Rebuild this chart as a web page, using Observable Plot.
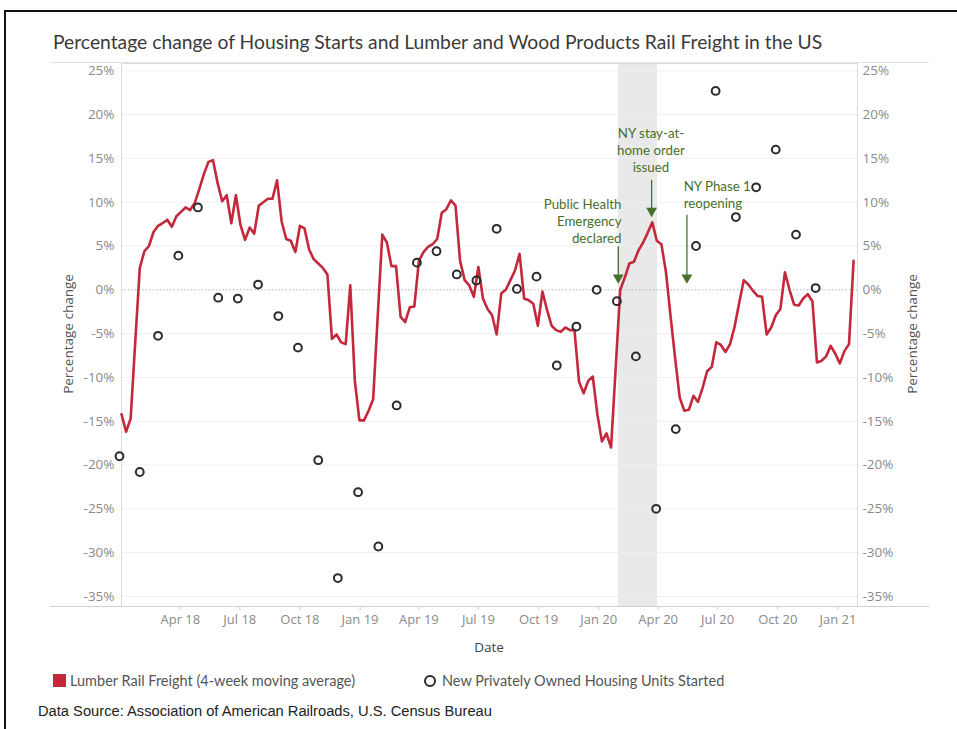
<!DOCTYPE html>
<html>
<head>
<meta charset="utf-8">
<script src="https://cdn.jsdelivr.net/npm/d3@7"></script>
<script src="https://cdn.jsdelivr.net/npm/@observablehq/plot@0.6"></script>
<style>
  html, body { margin: 0; padding: 0; background: #fff; }
  body { width: 957px; height: 729px; position: relative; overflow: hidden; font-family: Lato, "Open Sans", sans-serif; }
  #frame { position: absolute; left: 4px; top: 10px; width: 980px; height: 760px; border-left: 2px solid #111; border-top: 2px solid #111; }
  #title { position: absolute; left: 53px; top: 30px; font-size: 19.3px; color: #3a3a3a; white-space: nowrap; line-height: 24px; }
  #chart { position: absolute; left: 0; top: 55px; }
  .hline { position: absolute; left: 50px; width: 879px; height: 1px; }
  .ylab { position: absolute; top: 334px; font-size: 13.5px; color: #555; white-space: nowrap; font-family: "Open Sans", sans-serif; transform: translate(-50%, -50%) rotate(-90deg); }
  #xlab { position: absolute; left: 489px; top: 647px; transform: translate(-50%, -50%); font-size: 13.5px; color: #444; font-family: "Open Sans", sans-serif; }
  #legend { position: absolute; top: 672px; left: 0; width: 957px; height: 20px; font-size: 14.5px; color: #555; }
  .sw { position: absolute; top: 2px; }
  .lt { position: absolute; top: 0px; line-height: 18px; white-space: nowrap; }
  #source { position: absolute; left: 38px; top: 703px; font-family: "Liberation Sans", Arial, sans-serif; font-size: 14.7px; color: #222; white-space: nowrap; }
</style>
</head>
<body>
<div id="frame"></div>
<div id="title">Percentage change of Housing Starts and Lumber and Wood Products Rail Freight in the US</div>
<div class="hline" style="top:62px;background:#e2e2e2"></div>
<div id="chart"></div>
<div class="hline" style="top:606px;background:#cfcfcf"></div>
<div class="ylab" style="left:68px">Percentage change</div>
<div class="ylab" style="left:912px">Percentage change</div>
<div id="xlab">Date</div>
<div id="legend">
  <div class="sw" style="left:53px;width:13px;height:13px;background:#c4283b"></div>
  <div class="lt" style="left:70px">Lumber Rail Freight (4-week moving average)</div>
  <div class="sw" style="left:424px;top:3px;width:8px;height:8px;border:2px solid #2b2b2b;border-radius:50%"></div>
  <div class="lt" style="left:442px">New Privately Owned Housing Units Started</div>
</div>
<div id="source">Data Source: Association of American Railroads, U.S. Census Bureau</div>

<script>
// Weekly lumber rail freight (4-week moving average), % change
const weekDates = [
  "2018-01-01","2018-01-08","2018-01-15","2018-01-22","2018-01-29","2018-02-05","2018-02-12","2018-02-19","2018-02-26",
  "2018-03-05","2018-03-12","2018-03-19","2018-03-26","2018-04-02","2018-04-09","2018-04-16","2018-04-23","2018-04-30",
  "2018-05-07","2018-05-14","2018-05-21","2018-05-28","2018-06-04","2018-06-11","2018-06-18","2018-06-25",
  "2018-07-02","2018-07-09","2018-07-16","2018-07-23","2018-07-30","2018-08-06","2018-08-13","2018-08-20","2018-08-27",
  "2018-09-03","2018-09-10","2018-09-17","2018-09-24","2018-10-01","2018-10-08","2018-10-15","2018-10-22","2018-10-29",
  "2018-11-05","2018-11-12","2018-11-19","2018-11-26","2018-12-03","2018-12-10","2018-12-17","2018-12-24","2018-12-31",
  "2019-01-07","2019-01-14","2019-01-21","2019-01-28","2019-02-04","2019-02-11","2019-02-18","2019-02-25",
  "2019-03-04","2019-03-11","2019-03-18","2019-03-25","2019-04-01","2019-04-08","2019-04-15","2019-04-22","2019-04-29",
  "2019-05-06","2019-05-13","2019-05-20","2019-05-27","2019-06-03","2019-06-10","2019-06-17","2019-06-24",
  "2019-07-01","2019-07-08","2019-07-15","2019-07-22","2019-07-29","2019-08-05","2019-08-12","2019-08-19","2019-08-26",
  "2019-09-02","2019-09-09","2019-09-16","2019-09-23","2019-09-30","2019-10-07","2019-10-14","2019-10-21","2019-10-28",
  "2019-11-04","2019-11-11","2019-11-18","2019-11-25","2019-12-02","2019-12-09","2019-12-16","2019-12-23","2019-12-30",
  "2020-01-06","2020-01-13","2020-01-20","2020-01-27","2020-02-03","2020-02-10","2020-02-17","2020-02-24",
  "2020-03-02","2020-03-09","2020-03-16","2020-03-23","2020-03-30","2020-04-06","2020-04-13","2020-04-20","2020-04-27",
  "2020-05-04","2020-05-11","2020-05-18","2020-05-25","2020-06-01","2020-06-08","2020-06-15","2020-06-22","2020-06-29",
  "2020-07-06","2020-07-13","2020-07-20","2020-07-27","2020-08-03","2020-08-10","2020-08-17","2020-08-24","2020-08-31",
  "2020-09-07","2020-09-14","2020-09-21","2020-09-28","2020-10-05","2020-10-12","2020-10-19","2020-10-26",
  "2020-11-02","2020-11-09","2020-11-16","2020-11-23","2020-11-30","2020-12-07","2020-12-14","2020-12-21","2020-12-28",
  "2021-01-04","2021-01-11","2021-01-18","2021-01-25"
];
const lumberFreight = [
  -14.2, -16.2, -14.7, -6.0, 2.5, 4.4, 5.0, 6.6, 7.3,
  7.6, 8.0, 7.2, 8.4, 8.9, 9.4, 9.1, 9.9, 11.5,
  13.2, 14.6, 14.8, 12.2, 10.1, 10.8, 7.6, 10.8,
  7.4, 5.7, 7.1, 6.4, 9.6, 10.0, 10.4, 10.4, 12.5,
  7.8, 5.8, 5.6, 4.3, 7.3, 7.0, 4.6, 3.5, 3.0,
  2.5, 1.75, -5.6, -5.1, -6.0, -6.2, 0.5, -10.4, -14.9,
  -14.9, -13.8, -12.5, -3.0, 6.3, 5.4, 2.7, 2.7,
  -3.1, -3.7, -2.0, -1.9, 3.3, 4.3, 4.9, 5.2, 5.8,
  8.8, 9.2, 10.2, 9.6, 3.3, 1.1, 0.5, -0.8,
  2.6, -1.0, -2.2, -2.9, -5.1, -0.4, 0.0, 1.1, 2.2,
  4.1, -1.0, -1.2, -1.6, -4.1, -0.2, -2.3, -4.1, -4.6,
  -4.8, -4.3, -4.6, -4.6, -10.5, -11.8, -10.4, -9.9, -14.2,
  -17.3, -16.4, -18.0, -9.0, 0.0, 1.4, 3.0, 3.2,
  4.5, 5.4, 6.5, 7.7, 5.6, 5.2, 2.0, -3.0, -7.8,
  -12.3, -13.8, -13.7, -12.1, -12.8, -11.2, -9.3, -8.8, -6.0,
  -6.3, -7.1, -6.2, -4.2, -1.5, 1.1, 0.6, -0.1, -0.7,
  -0.8, -5.1, -4.3, -2.9, -2.2, 2.0, 0.0, -1.7,
  -1.8, -1.0, -0.5, -1.3, -8.3, -8.1, -7.6, -6.4, -7.3,
  -8.4, -7.0, -6.2, 3.3
];

// Monthly new privately owned housing units started, % change
const monthDates = [
  "2018-01-01","2018-02-01","2018-03-01","2018-04-01","2018-05-01","2018-06-01","2018-07-01","2018-08-01","2018-09-01","2018-10-01","2018-11-01","2018-12-01",
  "2019-01-01","2019-02-01","2019-03-01","2019-04-01","2019-05-01","2019-06-01","2019-07-01","2019-08-01","2019-09-01","2019-10-01","2019-11-01","2019-12-01",
  "2020-01-01","2020-02-01","2020-03-01","2020-04-01","2020-05-01","2020-06-01","2020-07-01","2020-08-01","2020-09-01","2020-10-01","2020-11-01","2020-12-01"
];
const housingStarts = [
  -19.0, -20.8, -5.25, 3.9, 9.4, -0.9, -1.0, 0.6, -3.0, -6.6, -19.45, -32.9,
  -23.1, -29.3, -13.2, 3.1, 4.4, 1.75, 1.06, 6.96, 0.1, 1.5, -8.64, -4.2,
  0.0, -1.3, -7.6, -25.0, -15.9, 5.0, 22.7, 8.3, 11.7, 16.0, 6.3, 0.2
];

// Axis ticks
const xTickDates = ["2018-04-01","2018-07-01","2018-10-01","2019-01-01","2019-04-01","2019-07-01","2019-10-01","2020-01-01","2020-04-01","2020-07-01","2020-10-01","2021-01-01"];
const xTickLabels = ["Apr 18","Jul 18","Oct 18","Jan 19","Apr 19","Jul 19","Oct 19","Jan 20","Apr 20","Jul 20","Oct 20","Jan 21"];
const yTicks = [-35, -30, -25, -20, -15, -10, -5, 0, 5, 10, 15, 20, 25];

// Shaded period
const bandStart = "2020-01-31";
const bandEnd = "2020-03-31";

// Annotations
const noteTexts = ["Public Health\nEmergency\ndeclared", "NY stay-at-\nhome order\nissued", "NY Phase 1\nreopening"];
const noteTextDates = ["2020-02-05", "2020-03-21", "2020-05-10"];
const noteTextValues = [7.9, 16.0, 10.9];
const noteAnchors = ["end", "middle", "start"];
const arrowDates = ["2020-01-31", "2020-03-22", "2020-05-15"];
const arrowFrom = [4.9, 12.5, 8.5];
const arrowTo = [1.4, 9.0, 1.4];

const lumber = weekDates.map((d, i) => ({date: new Date(d), value: lumberFreight[i]}));
const housing = monthDates.map((d, i) => ({date: new Date(d), value: housingStarts[i]}));
const notes = noteTexts.map((t, i) => ({text: t, date: new Date(noteTextDates[i]), value: noteTextValues[i], anchor: noteAnchors[i]}));
const arrows = arrowDates.map((d, i) => ({date: new Date(d), from: arrowFrom[i], to: arrowTo[i]}));
const tickLabelMap = new Map(xTickDates.map((d, i) => [+new Date(d), xTickLabels[i]]));
const green = "#466f2c";

const chart = Plot.plot({
  width: 957,
  height: 605,
  marginTop: 8,
  marginBottom: 54,
  marginLeft: 121,
  marginRight: 100,
  style: {fontFamily: "'Open Sans', sans-serif", fontSize: "13px", background: "transparent", overflow: "visible"},
  x: {type: "utc", domain: [new Date("2018-01-01"), new Date("2021-01-31")]},
  y: {domain: [-36.15, 25.83]},
  marks: [
    Plot.rect([{x1: new Date(bandStart), x2: new Date(bandEnd)}], {x1: "x1", x2: "x2", fill: "#e9e9e9"}),
    Plot.ruleY(yTicks.filter(d => d !== 0), {stroke: "#efefef", strokeWidth: 1}),
    Plot.ruleY([0], {stroke: "#b5b5b5", strokeDasharray: "1.5,2", strokeWidth: 1}),
    Plot.frame({stroke: "#dcdcdc"}),
    Plot.axisY({anchor: "left", ticks: yTicks, tickFormat: d => d + "%", tickSize: 0, tickPadding: 7, label: null, fill: "#8a8a8a", fontSize: 13.5}),
    Plot.axisY({anchor: "right", ticks: yTicks, tickFormat: d => d + "%", tickSize: 0, tickPadding: 5, label: null, fill: "#8a8a8a", fontSize: 13.5}),
    Plot.axisX({ticks: xTickDates.map(d => new Date(d)), tickFormat: d => tickLabelMap.get(+d), tickSize: 4, tickPadding: 4, label: null, stroke: "#d0d0d0", fill: "#8a8a8a"}),
    Plot.line(lumber, {x: "date", y: "value", stroke: "#c4283b", strokeWidth: 2.6, strokeLinejoin: "round"}),
    Plot.dot(housing, {x: "date", y: "value", r: 3.9, stroke: "#2b2b2b", strokeWidth: 2, fill: "none", dx: -2}),
    Plot.ruleX(arrows, {x: "date", y1: "from", y2: "to", stroke: green, strokeWidth: 1.3}),
    Plot.dot(arrows, {x: "date", y: "to", symbol: "triangle", rotate: 180, r: 4, fill: green, stroke: "none"}),
    ...notes.map(n => Plot.text([n], {x: "date", y: "value", text: "text", textAnchor: n.anchor, lineHeight: 1.25, fill: green, fontSize: 13.3, fontFamily: "Lato, sans-serif"}))
  ]
});
document.getElementById("chart").appendChild(chart);
</script>
</body>
</html>
